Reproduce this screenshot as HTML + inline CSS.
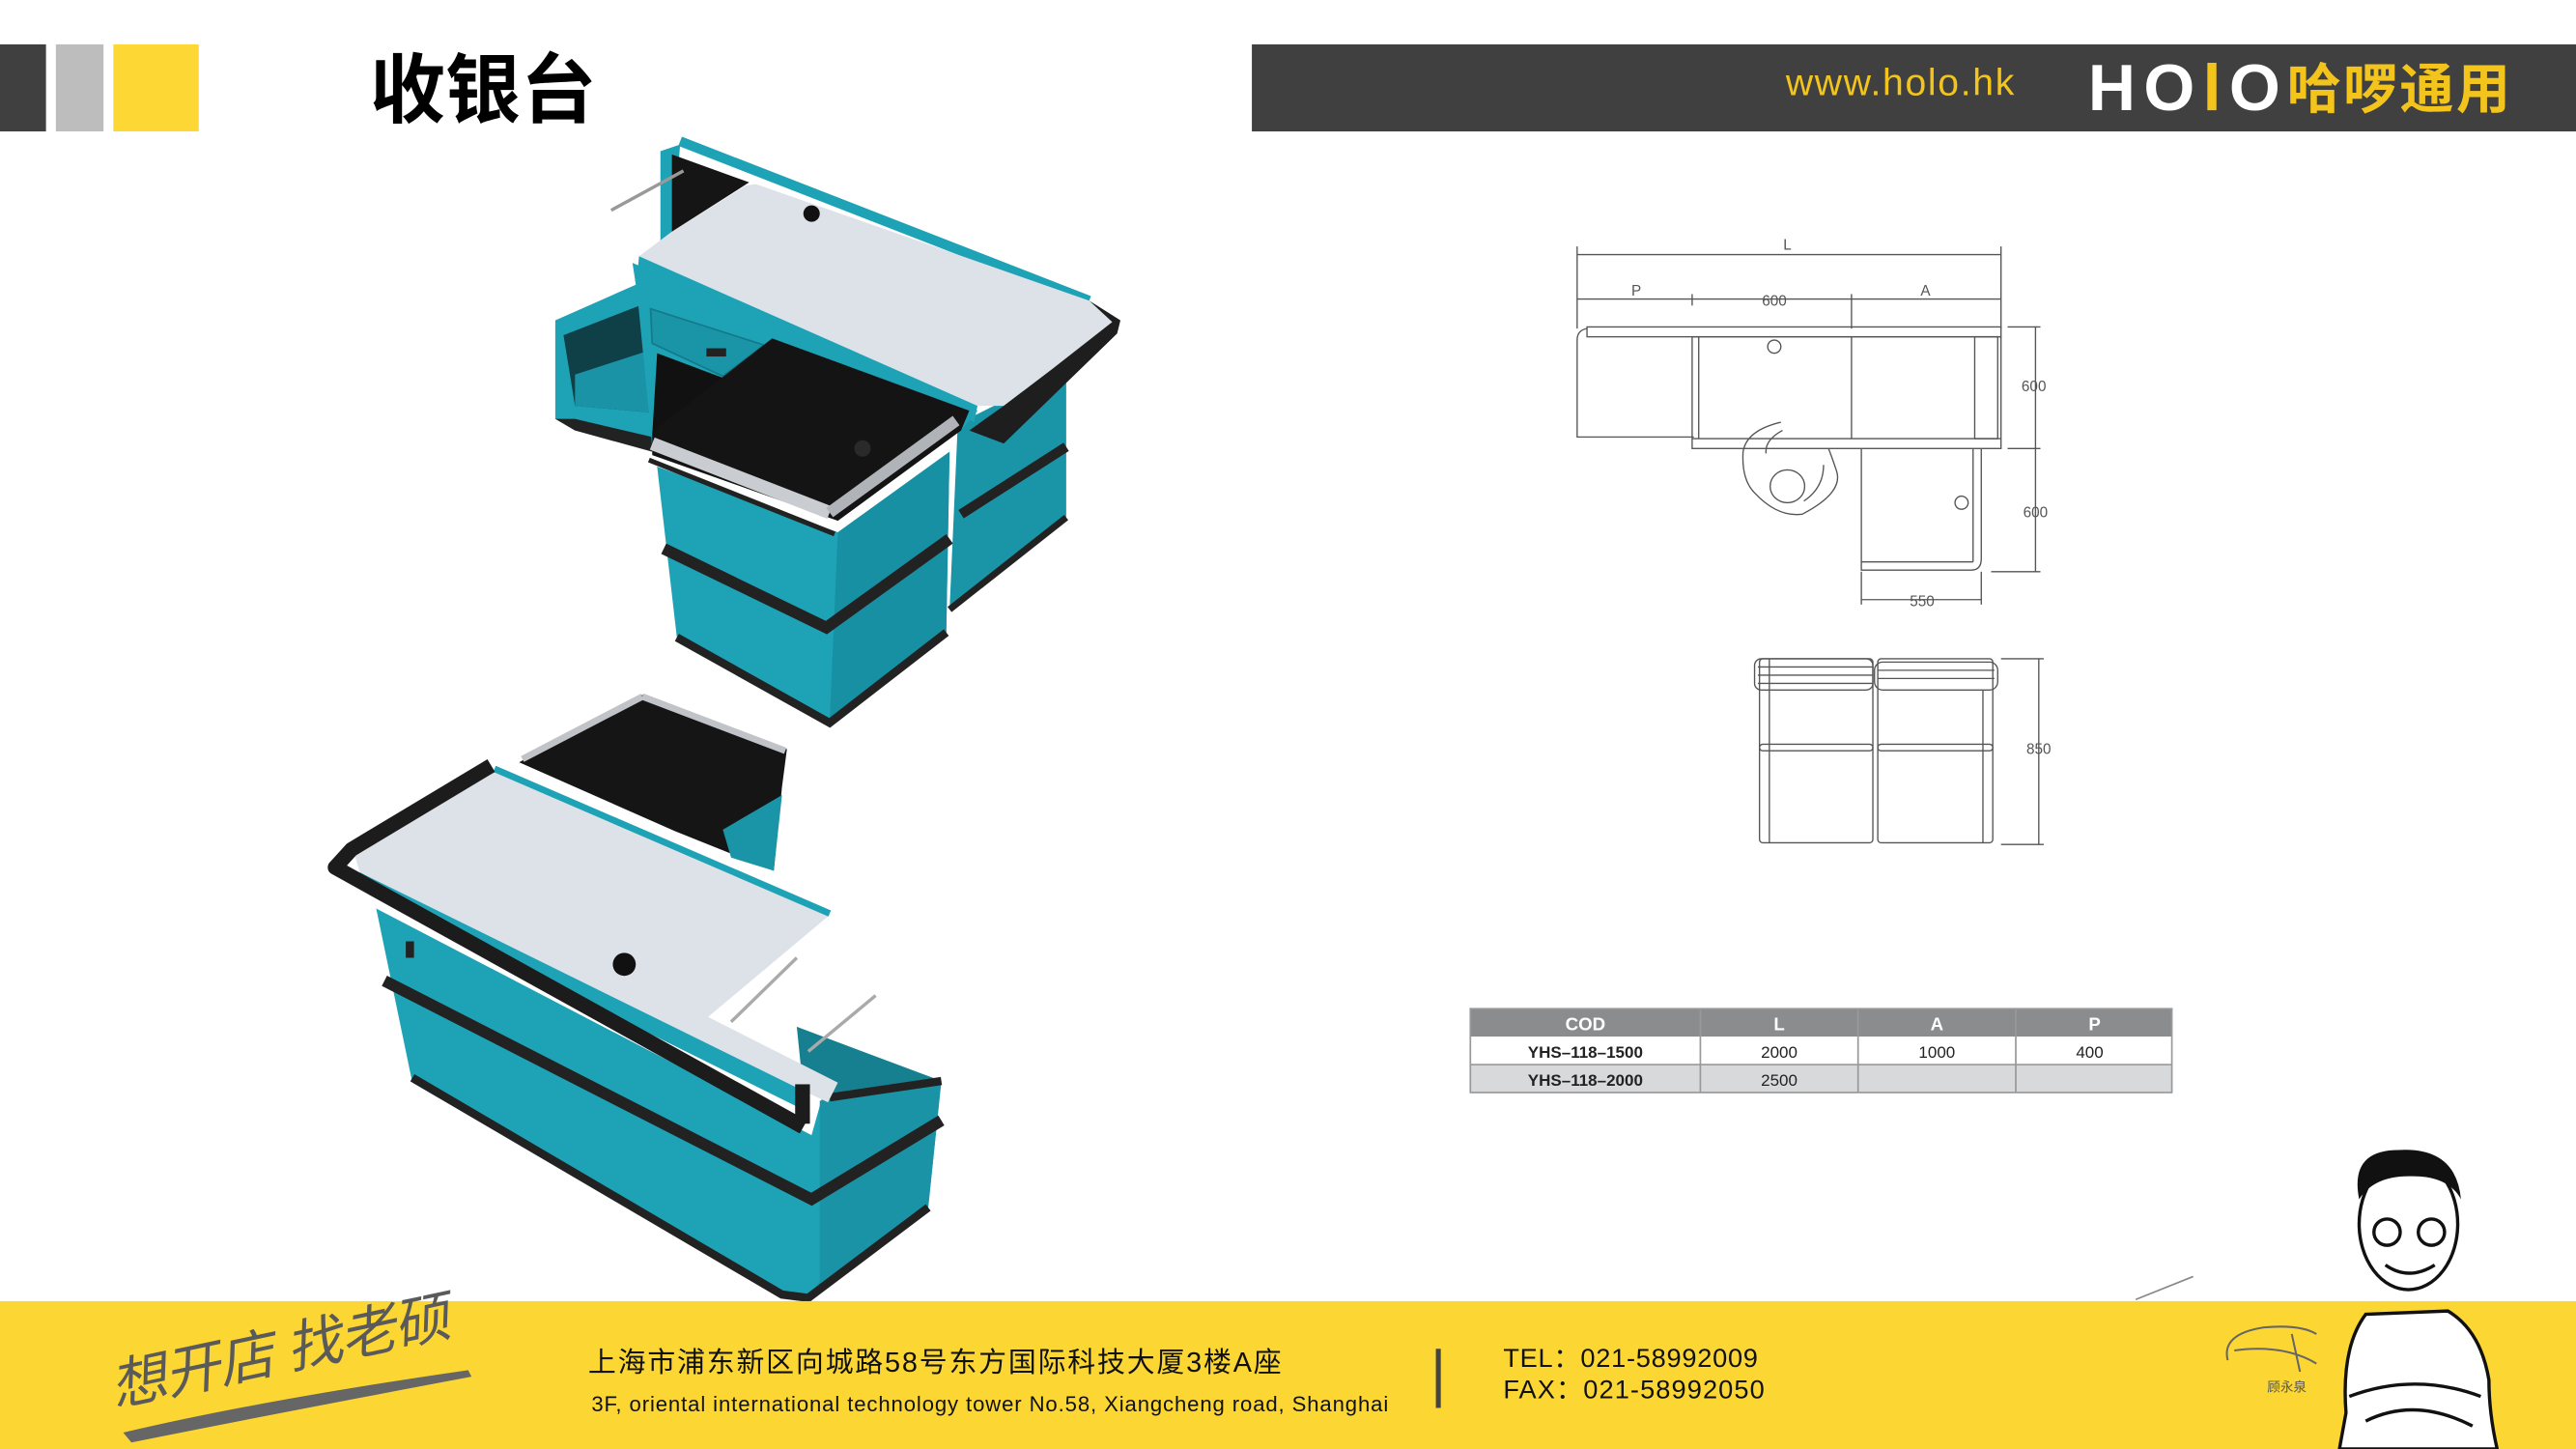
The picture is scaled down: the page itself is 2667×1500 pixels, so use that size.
<!DOCTYPE html>
<html><head><meta charset="utf-8"><style>
html,body{margin:0;padding:0;background:#fff;}
svg{display:block;}
text{font-family:"Liberation Sans","Noto Sans CJK SC",sans-serif;}
</style></head><body>
<svg width="2667" height="1500" viewBox="0 0 1568 882" preserveAspectRatio="none" xmlns="http://www.w3.org/2000/svg">
<rect width="1568" height="882" fill="#fff"/>
<!-- header -->
<rect x="0" y="27" width="28" height="53" fill="#404040"/>
<rect x="34" y="27" width="29" height="53" fill="#bdbdbd"/>
<rect x="69" y="27" width="52" height="53" fill="#fdd835"/>
<text x="225" y="71" font-size="46" font-weight="bold" fill="#000">收银台</text>
<rect x="762" y="27" width="806" height="53" fill="#404040"/>
<text x="1087" y="58" font-size="23" fill="#f3c41c" textLength="139">www.holo.hk</text>
<text x="1271" y="67" font-size="40" font-weight="bold" fill="#fff" textLength="117">HO<tspan fill="#f3c41c">l</tspan>O</text>
<text x="1392" y="66" font-size="33" font-weight="bold" fill="#f3c41c" textLength="136">哈啰通用</text>

<!-- ===== top counter ===== -->
<polygon points="583,258 649,225 649,315 578,371" fill="#1a95a8"/>
<polyline points="585,313 649,272" stroke="#222" stroke-width="6" fill="none"/>
<polyline points="578,371 649,315" stroke="#222" stroke-width="4" fill="none"/>
<polygon points="338,195 390,172 397,270 350,262 338,255" fill="#1ea2b5"/>
<polygon points="343,204 392,185 395,251 350,247" fill="#0f3f47"/>
<polygon points="350,228 393,214 395,251 350,247" fill="#1a93a6"/>
<polygon points="338,255 350,262 397,275 397,266 350,255" fill="#222"/>
<polygon points="385,160 595,250 585,262 397,272 388,180" fill="#1ea2b5"/>
<polygon points="396,188 465,210 440,229 397,209" fill="#1a95a8" stroke="#137a8a" stroke-width="1"/>
<rect x="430" y="212" width="12" height="5" fill="#222"/>
<polygon points="400,215 440,230 470,206 590,250 397,265" fill="#111"/>
<polygon points="400,284 510,324 578,275 576,385 505,440 412,388" fill="#1ea2b5"/>
<polygon points="510,324 578,275 576,385 505,440" fill="#1890a3"/>
<polyline points="404,334 503,382 578,328" stroke="#222" stroke-width="7" fill="none"/>
<polyline points="412,388 505,440 576,385" stroke="#222" stroke-width="5" fill="none"/>
<polyline points="414,86 663,183" stroke="#1ea2b5" stroke-width="6" fill="none"/>
<polygon points="402,92 414,88 409,150 402,148" fill="#1ea2b5"/>
<polygon points="389,156 409,141 454,113 460,112 663,183 677,196 640,225 611,247 595,247" fill="#dde1e8"/>
<polygon points="409,94 456,111 409,141" fill="#151515"/>
<polygon points="389,156 595,247 593,257 388,166" fill="#1ea2b5"/>
<polygon points="663,183 682,195 680,203 611,270 590,262 611,247 640,225 677,196" fill="#1e1e1e"/>
<circle cx="494" cy="130" r="5" fill="#111"/>
<line x1="372" y1="128" x2="416" y2="104" stroke="#999" stroke-width="2"/>
<polygon points="397,263 470,206 590,250 585,262 510,317 397,277" fill="#141414"/>
<line x1="397" y1="270" x2="505" y2="312" stroke="#c9ccd0" stroke-width="8"/>
<line x1="505" y1="312" x2="582" y2="256" stroke="#b0b4b8" stroke-width="7"/>
<line x1="395" y1="280" x2="508" y2="325" stroke="#222" stroke-width="3"/>
<circle cx="525" cy="273" r="5" fill="#2a2a2a"/>

<!-- ===== bottom counter ===== -->
<polygon points="316,464 391,423 479,456 476,479 471,530 411,506" fill="#151515"/>
<polygon points="440,505 476,484 471,530 445,522" fill="#1a95a8"/>
<line x1="318" y1="462" x2="391" y2="424" stroke="#c0c3c7" stroke-width="4"/>
<line x1="391" y1="424" x2="478" y2="457" stroke="#c0c3c7" stroke-width="4"/>
<polygon points="229,553 494,691 501,666 573,658 565,735 492,790 476,790 251,659" fill="#1ea2b5"/>
<polygon points="499,670 573,658 565,735 492,790 499,780" fill="#1a93a6"/>
<polygon points="485,625 573,658 505,668 489,664" fill="#167f90"/>
<polyline points="234,597 494,730 573,682" stroke="#222" stroke-width="7" fill="none"/>
<polyline points="251,656 476,788 492,790 565,735" stroke="#222" stroke-width="5" fill="none"/>
<polyline points="505,668 573,658" stroke="#222" stroke-width="5" fill="none"/>
<rect x="247" y="573" width="5" height="10" fill="#222"/>
<polygon points="216,521 301,470 505,557 431,619 510,659 504,671 489,664 219,531" fill="#dde1e8"/>
<line x1="301" y1="468" x2="505" y2="556" stroke="#1ea2b5" stroke-width="4"/>
<polygon points="219,531 489,664 492,677 222,543" fill="#1ea2b5"/>
<polyline points="299,466 214,517 204,528 489,686" stroke="#1c1c1c" stroke-width="9" fill="none" stroke-linejoin="round"/>
<rect x="484" y="660" width="9" height="24" fill="#1c1c1c"/>
<circle cx="380" cy="587" r="7" fill="#111"/>
<line x1="445" y1="622" x2="485" y2="583" stroke="#aaa" stroke-width="2"/>
<line x1="492" y1="640" x2="533" y2="606" stroke="#aaa" stroke-width="2"/>

<!-- ===== tech drawing ===== -->
<g stroke="#555" stroke-width="0.8" fill="none">
<line x1="960" y1="155" x2="1218" y2="155"/>
<line x1="960" y1="150" x2="960" y2="200"/><line x1="1218" y1="150" x2="1218" y2="200"/>
<line x1="960" y1="182" x2="1218" y2="182"/>
<line x1="1030" y1="179" x2="1030" y2="186"/><line x1="1127" y1="179" x2="1127" y2="200"/>
<rect x="966" y="199" width="252" height="6"/>
<path d="M966,200 Q960,201 960,207 L960,266 L1031,266"/>
<rect x="1030" y="205" width="188" height="68"/>
<line x1="1030" y1="267" x2="1218" y2="267"/>
<line x1="1127" y1="205" x2="1127" y2="267"/>
<line x1="1034" y1="205" x2="1034" y2="267"/>
<rect x="1202" y="205" width="14" height="62"/>
<circle cx="1080" cy="211" r="4"/>
<path d="M1133,273 L1133,347 L1200,347 Q1206,347 1206,340 L1206,273"/>
<line x1="1201" y1="273" x2="1201" y2="342"/>
<line x1="1133" y1="342" x2="1201" y2="342"/>
<circle cx="1194" cy="306" r="4"/>
<line x1="1222" y1="199" x2="1242" y2="199"/>
<line x1="1222" y1="273" x2="1242" y2="273"/>
<line x1="1212" y1="348" x2="1242" y2="348"/>
<line x1="1239" y1="199" x2="1239" y2="348"/>
<line x1="1133" y1="348" x2="1133" y2="368"/><line x1="1206" y1="348" x2="1206" y2="368"/>
<line x1="1133" y1="365" x2="1206" y2="365"/>
<ellipse cx="1088" cy="296" rx="10.5" ry="10"/>
<path d="M1084,257 Q1063,262 1061,275 Q1060,292 1068,300 Q1082,315 1097,313 Q1122,300 1118,287 Q1115,278 1113,273 M1075,276 Q1074,268 1085,262 M1098,305 Q1110,297 1110,283"/>
<rect x="1071" y="401" width="69" height="112" rx="2"/>
<rect x="1143" y="401" width="70" height="112" rx="2"/>
<rect x="1068" y="401" width="72" height="19" rx="4"/>
<rect x="1141" y="403" width="75" height="17" rx="5"/>
<line x1="1070" y1="406" x2="1140" y2="406"/><line x1="1070" y1="411" x2="1140" y2="411"/><line x1="1070" y1="416" x2="1140" y2="416"/>
<line x1="1143" y1="408" x2="1214" y2="408"/><line x1="1143" y1="413" x2="1214" y2="413"/>
<line x1="1077" y1="401" x2="1077" y2="513"/><line x1="1207" y1="420" x2="1207" y2="513"/>
<rect x="1071" y="453" width="69" height="4" rx="2"/>
<rect x="1143" y="453" width="70" height="4" rx="2"/>
<line x1="1218" y1="401" x2="1244" y2="401"/><line x1="1218" y1="514" x2="1244" y2="514"/>
<line x1="1241" y1="401" x2="1241" y2="514"/>
</g>
<g font-size="9" fill="#555" text-anchor="middle">
<text x="1088" y="152">L</text><text x="996" y="180">P</text>
<text x="1080" y="186" >600</text><text x="1172" y="180">A</text>
<text x="1238" y="238">600</text><text x="1239" y="315">600</text>
<text x="1170" y="369">550</text><text x="1241" y="459">850</text>
</g>

<!-- table -->
<rect x="895" y="614" width="427" height="17" fill="#8a8c8e"/>
<rect x="895" y="631" width="427" height="17" fill="#fff"/>
<rect x="895" y="648" width="427" height="17" fill="#d8d9db"/>
<rect x="895" y="614" width="427" height="51" fill="none" stroke="#999" stroke-width="1"/>
<g stroke="#999" stroke-width="1">
<line x1="1035" y1="614" x2="1035" y2="665"/><line x1="1131" y1="614" x2="1131" y2="665"/><line x1="1227" y1="614" x2="1227" y2="665"/>
<line x1="895" y1="648" x2="1322" y2="648"/>
</g>
<g font-size="11" text-anchor="middle" font-weight="bold" fill="#fff">
<text x="965" y="627">COD</text><text x="1083" y="627">L</text><text x="1179" y="627">A</text><text x="1275" y="627">P</text>
</g>
<g font-size="10" text-anchor="middle" fill="#222">
<text x="965" y="644" font-weight="bold">YHS–118–1500</text><text x="1083" y="644">2000</text><text x="1179" y="644">1000</text><text x="1272" y="644">400</text>
<text x="965" y="661" font-weight="bold">YHS–118–2000</text><text x="1083" y="661">2500</text>
</g>

<!-- footer -->
<rect x="0" y="792" width="1568" height="90" fill="#fcd733"/>
<line x1="1300" y1="791" x2="1335" y2="777" stroke="#888" stroke-width="1"/>
<path d="M75,872 Q160,852 285,834 L287,838 Q170,860 80,878 Z" fill="#666"/>
<text x="70" y="856" font-size="34" fill="#5a5a5a" transform="rotate(-12 70 856)" font-style="italic" textLength="210">想开店 找老硕</text>
<text x="358" y="835" font-size="17" fill="#111" textLength="422">上海市浦东新区向城路58号东方国际科技大厦3楼A座</text>
<text x="360" y="859" font-size="13" fill="#111" textLength="485">3F, oriental international technology tower No.58, Xiangcheng road, Shanghai</text>
<rect x="874" y="821" width="3" height="36" fill="#444"/>
<text x="915" y="832" font-size="16" fill="#111" textLength="155">TEL：021-58992009</text>
<text x="915" y="851" font-size="16" fill="#111" textLength="159">FAX：021-58992050</text>
<path d="M1356,828 Q1352,812 1378,808 Q1400,806 1410,812 M1360,822 Q1390,818 1410,830 M1395,812 L1400,835" stroke="#666" stroke-width="1.2" fill="none"/>
<text x="1380" y="847" font-size="8" fill="#555">顾永泉</text>
<path d="M1440,800 Q1425,820 1428,860 L1424,882 L1520,882 Q1515,860 1515,840 Q1510,810 1490,798 Z" fill="#fff" stroke="#111" stroke-width="2"/>
<path d="M1430,850 Q1470,835 1510,850 M1440,865 Q1470,850 1505,868" stroke="#111" stroke-width="2" fill="none"/>
<ellipse cx="1466" cy="745" rx="30" ry="40" fill="#fff" stroke="#111" stroke-width="2"/>
<path d="M1436,730 Q1430,700 1460,700 Q1495,698 1498,730 Q1490,715 1466,716 Q1445,716 1436,730 Z" fill="#111"/>
<circle cx="1453" cy="750" r="8" fill="none" stroke="#111" stroke-width="2"/>
<circle cx="1480" cy="750" r="8" fill="none" stroke="#111" stroke-width="2"/>
<path d="M1452,770 Q1466,780 1482,770" stroke="#111" stroke-width="2" fill="none"/>
</svg>
</body></html>
